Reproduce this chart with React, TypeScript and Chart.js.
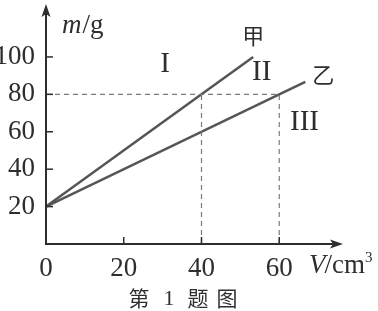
import { useEffect, useRef } from 'react';
import { Chart, registerables } from 'chart.js';

Chart.register(...registerables);

// ---- data ----
const xTicks = [0, 20, 40, 60];
const yTicks = [20, 40, 60, 80, 100];
const jiaV = [0, 40, 53.3];
const jiaM = [20, 80, 100];
const yiV = [0, 60, 66.7];
const yiM = [20, 80, 86.7];
const guideH = { v: [0, 60], m: [80, 80] };
const guideV40 = { v: [40, 40], m: [0, 80] };
const guideV60 = { v: [60, 60], m: [0, 80] };
const regionLabels = ['I', 'II', 'III'];
const regionV = [30.6, 55.5, 66.5];
const regionM = [96, 91.7, 65];
const seriesNames = ['甲', '乙'];
const seriesNameV = [53.3, 71.3];
const seriesNameM = [111.2, 90.4];
const xMax = 76.4;
const yMax = 128.3;

const SERIF = '"Liberation Serif", "DejaVu Serif", serif';
const CJK = '"Noto Sans CJK SC", sans-serif';
const INK = '#2e2e2e';
const LINE = '#555555';

const pts = (v: number[], m: number[]) => v.map((x, i) => ({ x, y: m[i] }));

const decor = {
  id: 'decor',
  beforeDraw(chart: any) {
    const { ctx, width, height } = chart;
    ctx.save();
    ctx.fillStyle = '#ffffff';
    ctx.fillRect(0, 0, width, height);
    ctx.restore();
  },
  afterDatasetsDraw(chart: any) {
    const { ctx } = chart;
    const x = chart.scales.x;
    const y = chart.scales.y;
    const ox = x.getPixelForValue(0);
    const oy = y.getPixelForValue(0);
    ctx.save();
    ctx.strokeStyle = INK;
    ctx.fillStyle = INK;
    ctx.lineWidth = 2;
    // y axis
    ctx.beginPath();
    ctx.moveTo(ox, oy + 1);
    ctx.lineTo(ox, y.top + 6);
    ctx.stroke();
    ctx.beginPath();
    ctx.moveTo(ox, y.top);
    ctx.lineTo(ox - 4.5, y.top + 13);
    ctx.lineTo(ox, y.top + 10);
    ctx.lineTo(ox + 4.5, y.top + 13);
    ctx.closePath();
    ctx.fill();
    // x axis
    ctx.beginPath();
    ctx.moveTo(ox - 1, oy);
    ctx.lineTo(x.right - 6, oy);
    ctx.stroke();
    ctx.beginPath();
    ctx.moveTo(x.right, oy);
    ctx.lineTo(x.right - 13, oy - 4.5);
    ctx.lineTo(x.right - 10, oy);
    ctx.lineTo(x.right - 13, oy + 4.5);
    ctx.closePath();
    ctx.fill();
    // inward ticks
    ctx.lineWidth = 1.5;
    yTicks.forEach((v) => {
      const py = y.getPixelForValue(v);
      ctx.beginPath();
      ctx.moveTo(ox, py);
      ctx.lineTo(ox + 7, py);
      ctx.stroke();
    });
    xTicks.slice(1).forEach((v) => {
      const px = x.getPixelForValue(v);
      ctx.beginPath();
      ctx.moveTo(px, oy);
      ctx.lineTo(px, oy - 7);
      ctx.stroke();
    });
    // axis titles
    ctx.textBaseline = 'alphabetic';
    ctx.textAlign = 'left';
    ctx.font = `italic 27px ${SERIF}`;
    let tx = ox + 16;
    ctx.fillText('m', tx, 33);
    tx += ctx.measureText('m').width + 1;
    ctx.font = `27px ${SERIF}`;
    ctx.fillText('/g', tx, 33);

    ctx.font = `italic 27px ${SERIF}`;
    tx = 309;
    ctx.fillText('V', tx, 273);
    tx += ctx.measureText('V').width - 1;
    ctx.font = `27px ${SERIF}`;
    ctx.fillText('/cm', tx, 273);
    tx += ctx.measureText('/cm').width;
    ctx.font = `15px ${SERIF}`;
    ctx.fillText('3', tx, 262);

    // region labels
    ctx.textAlign = 'center';
    ctx.textBaseline = 'middle';
    ctx.font = `29px ${SERIF}`;
    regionLabels.forEach((t, i) => {
      ctx.fillText(t, x.getPixelForValue(regionV[i]), y.getPixelForValue(regionM[i]));
    });
    ctx.font = `22px ${CJK}`;
    seriesNames.forEach((t, i) => {
      ctx.fillText(t, x.getPixelForValue(seriesNameV[i]), y.getPixelForValue(seriesNameM[i]));
    });

    // caption
    ctx.font = `21px ${CJK}`;
    ctx.fillText('第', 139, 298);
    ctx.font = `22px ${SERIF}`;
    ctx.fillText('1', 169, 299);
    ctx.font = `21px ${CJK}`;
    ctx.fillText('题', 198, 298);
    ctx.fillText('图', 227, 298);
    ctx.restore();
  },
};

const noPad = (s: any) => {
  s.paddingTop = 0;
  s.paddingBottom = 0;
  s.paddingLeft = 0;
  s.paddingRight = 0;
};

export default function App() {
  const ref = useRef<HTMLCanvasElement | null>(null);
  useEffect(() => {
    document.body.style.margin = '0';
    const canvas = ref.current;
    if (!canvas) return;
    const lineDs = (data: any, color: string, width: number, dash: number[] = []) => ({
      data,
      borderColor: color,
      borderWidth: width,
      borderDash: dash,
      pointRadius: 0,
      showLine: true,
      fill: false,
      tension: 0,
    });
    const chart = new Chart(canvas, {
      type: 'scatter',
      data: {
        datasets: [
          lineDs(pts(guideH.v, guideH.m), '#7a7a7a', 1.2, [5, 4]),
          lineDs(pts(guideV40.v, guideV40.m), '#7a7a7a', 1.2, [5, 4]),
          lineDs(pts(guideV60.v, guideV60.m), '#7a7a7a', 1.2, [5, 4]),
          lineDs(pts(jiaV, jiaM), LINE, 2.5),
          lineDs(pts(yiV, yiM), LINE, 2.5),
        ],
      },
      options: {
        responsive: false,
        animation: false,
        events: [],
        layout: { padding: { top: 4, right: 35, left: 0, bottom: 0 } },
        plugins: { legend: { display: false }, tooltip: { enabled: false } },
        scales: {
          x: {
            type: 'linear',
            min: 0,
            max: xMax,
            grid: { display: false },
            border: { display: false },
            ticks: {
              font: { family: SERIF, size: 27 },
              color: INK,
              padding: 1,
              maxRotation: 0,
              autoSkip: false,
            },
            afterBuildTicks: (s: any) => {
              s.ticks = xTicks.map((value) => ({ value }));
            },
            afterFit: (s: any) => {
              s.height = 67;
              noPad(s);
            },
          },
          y: {
            type: 'linear',
            min: 0,
            max: yMax,
            grid: { display: false },
            border: { display: false },
            ticks: {
              font: { family: SERIF, size: 27 },
              color: INK,
              padding: 3,
              autoSkip: false,
            },
            afterBuildTicks: (s: any) => {
              s.ticks = yTicks.map((value) => ({ value }));
            },
            afterFit: (s: any) => {
              s.width = 46;
              noPad(s);
            },
          },
        },
      },
      plugins: [decor],
    });
    return () => chart.destroy();
  }, []);
  return <canvas ref={ref} width={378} height={311} style={{ display: 'block' }} />;
}
